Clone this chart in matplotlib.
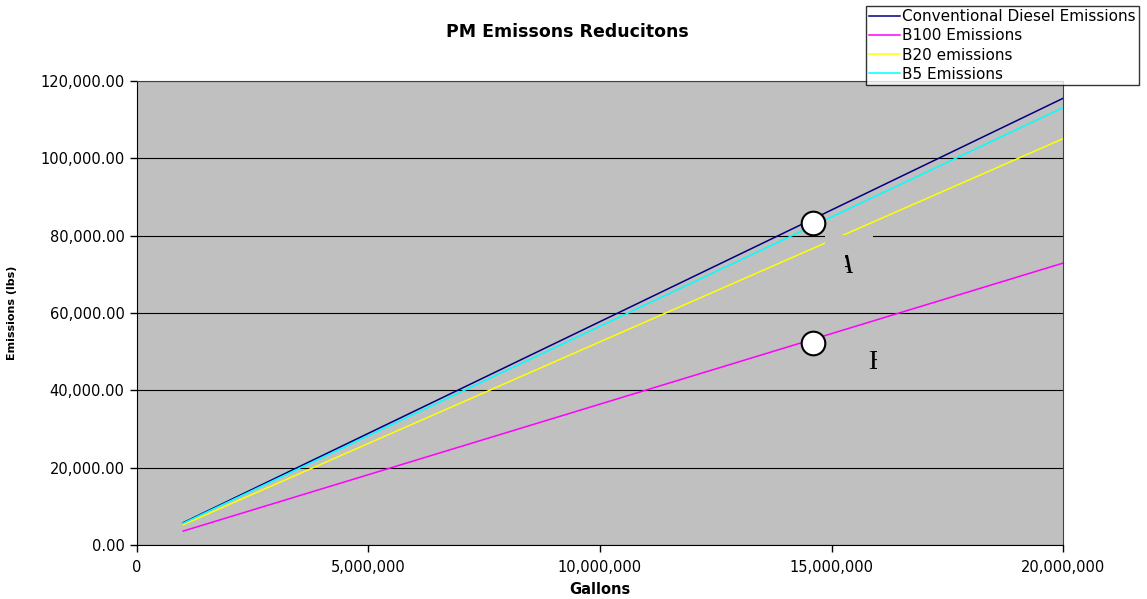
import matplotlib.pyplot as plt
from matplotlib.patches import Rectangle
from matplotlib.ticker import FuncFormatter

# gallons of fuel vs PM emissions (lbs)
gallons = [1_000_000, 20_000_000]
diesel = [5_780, 115_520]
b100 = [3_600, 72_900]
b20 = [5_250, 105_080]
b5 = [5_660, 113_100]

series_names = ['Conventional Diesel Emissions', 'B100 Emissions', 'B20 emissions', 'B5 Emissions']
series_colors = ['#000080', '#FF00FF', '#FFFF00', '#00FFFF']

# callout points
point_gallons = [14_600_000, 14_600_000]
point_emissions = [83_300, 52_200]

plt.rcParams['font.family'] = ['DejaVu Sans']

fig = plt.figure(figsize=(11.47, 5.99), dpi=100)
ax = fig.add_axes([0.1194, 0.0902, 0.8074, 0.7746])
ax.set_facecolor('#C0C0C0')

for ys, name, col in zip([diesel, b100, b20, b5], series_names, series_colors):
    ax.plot(gallons, ys, color=col, lw=1.1, label=name, zorder=3)

ax.set_xlim(0, 20_000_000)
ax.set_ylim(0, 120_000)
ax.set_xticks(range(0, 20_000_001, 5_000_000))
ax.set_yticks(range(0, 120_001, 20_000))
ax.xaxis.set_major_formatter(FuncFormatter(lambda v, p: f'{v:,.0f}'))
ax.yaxis.set_major_formatter(FuncFormatter(lambda v, p: f'{v:,.2f}'))
ax.tick_params(direction='out', length=5, width=1, labelsize=10.5, pad=4)
ax.tick_params(axis='x', pad=6)
ax.grid(axis='y', color='black', lw=0.8, zorder=1)
ax.set_axisbelow(True)
for side in ['left', 'bottom']:
    ax.spines[side].set_color('black')
for side in ['top', 'right']:
    ax.spines[side].set_color('#404040')

fig.text(567 / 1147, 1 - 32 / 599, 'PM Emissons Reducitons', fontsize=12.5,
         fontweight='bold', ha='center', va='center')
ax.set_xlabel('Gallons', fontsize=10.5, fontweight='bold', labelpad=5)
ax.set_ylabel('Emissions (lbs)', fontsize=8, fontweight='bold', labelpad=17)

# gray text box hiding part of the 80,000 gridline
ax.add_patch(Rectangle((14_860_000, 76_800), 1_040_000, 3_400,
                       facecolor='#C0C0C0', edgecolor='none', zorder=4))

ax.plot(point_gallons, point_emissions, 'o', ms=17, mfc='white', mec='black',
        mew=1.5, zorder=5, clip_on=False)

# partially hidden A / B labels
ta = ax.text(15_080_000, 70_400, 'A', fontsize=20, family='Liberation Serif',
             style='italic', va='baseline', ha='left', zorder=6, clip_on=True)
ta.set_clip_path(Rectangle((15_290_000, 60_000), 700_000, 20_000, transform=ax.transData))
tb = ax.text(15_790_000, 45_500, 'B', fontsize=20, family='Liberation Serif',
             va='baseline', ha='left', zorder=6, clip_on=True)
tb.set_clip_path(Rectangle((15_700_000, 40_000), 280_000, 15_000, transform=ax.transData))

leg = fig.legend(loc='lower left', bbox_to_anchor=(866 / 1147, 1 - 85 / 599),
                 fontsize=11, frameon=True, fancybox=False, edgecolor='black',
                 borderpad=0.22, labelspacing=0.27, handlelength=2.0,
                 handletextpad=0.15, borderaxespad=0)
leg.get_frame().set_linewidth(1.0)

fig.savefig('out.png', dpi=100)
